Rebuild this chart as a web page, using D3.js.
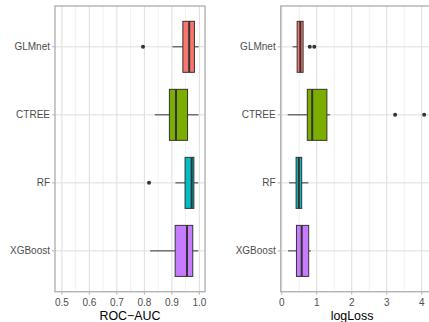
<!DOCTYPE html>
<html><head><meta charset="utf-8">
<script src="https://cdn.jsdelivr.net/npm/d3@7"></script>
<style>body{margin:0;background:#fff}svg{display:block}</style>
</head><body>
<script>
const models = ["GLMnet","CTREE","RF","XGBoost"];
const colors = ["#F8766D","#7CAE00","#00BFC4","#C77CFF"];
// [lowerWhisker, q1, median, q3, upperWhisker]
const rocStats = [
  [0.902,0.940,0.963,0.982,0.997],
  [0.838,0.891,0.915,0.957,0.997],
  [0.913,0.948,0.972,0.980,0.996],
  [0.821,0.912,0.955,0.976,0.996]
];
const rocOutliers = [[0.795],[],[0.817],[]];
const logStats = [
  [0.31,0.44,0.53,0.61,0.61],
  [0.17,0.73,0.87,1.29,1.38],
  [0.21,0.41,0.49,0.57,0.76],
  [0.18,0.42,0.57,0.77,0.83]
];
const logOutliers = [[0.80,0.93],[3.24,4.07],[],[]];
const rocTicks = [0.5,0.6,0.7,0.8,0.9,1.0];
const logTicks = [0,1,2,3,4];

const W=429,H=322;
const svg=d3.select("body").append("svg").attr("width",W).attr("height",H);
const font="Liberation Sans, Arial, sans-serif";

function panel(opts){
  const {x0,x1,y0,y1,domain,ticks,minor,stats,outliers,title,labelX,fmt}=opts;
  const g=svg.append("g");
  const clipId="clip"+Math.round(x0);
  svg.append("clipPath").attr("id",clipId).append("rect")
    .attr("x",x0).attr("y",y0).attr("width",x1-x0).attr("height",y1-y0);
  const x=d3.scaleLinear().domain(domain).range([x0,x1]);
  const y=d3.scalePoint().domain(models).range([y0,y1]).padding(0.6);
  const band=y.step()*0.75;
  const pg=g.append("g").attr("clip-path",`url(#${clipId})`);
  pg.selectAll(".mn").data(minor).join("line")
    .attr("x1",d=>x(d)).attr("x2",d=>x(d)).attr("y1",y0).attr("y2",y1)
    .attr("stroke","#e6e6e6").attr("stroke-width",0.6);
  pg.selectAll(".mj").data(ticks).join("line")
    .attr("x1",d=>x(d)).attr("x2",d=>x(d)).attr("y1",y0).attr("y2",y1)
    .attr("stroke","#dedede").attr("stroke-width",1);
  pg.selectAll(".hy").data(models).join("line")
    .attr("x1",x0).attr("x2",x1).attr("y1",d=>y(d)).attr("y2",d=>y(d))
    .attr("stroke","#dedede").attr("stroke-width",1);
  models.forEach((m,i)=>{
    const s=stats[i], cy=y(m);
    pg.append("line").attr("x1",x(s[0])).attr("x2",x(s[1])).attr("y1",cy).attr("y2",cy)
      .attr("stroke","#333").attr("stroke-width",1);
    pg.append("line").attr("x1",x(s[3])).attr("x2",x(s[4])).attr("y1",cy).attr("y2",cy)
      .attr("stroke","#333").attr("stroke-width",1);
    pg.append("rect").attr("x",x(s[1])).attr("width",x(s[3])-x(s[1]))
      .attr("y",cy-band/2).attr("height",band)
      .attr("fill",colors[i]).attr("stroke","#333").attr("stroke-width",1);
    pg.append("line").attr("x1",x(s[2])).attr("x2",x(s[2])).attr("y1",cy-band/2).attr("y2",cy+band/2)
      .attr("stroke","#333").attr("stroke-width",2);
    outliers[i].forEach(o=>{
      pg.append("circle").attr("cx",x(o)).attr("cy",cy).attr("r",2).attr("fill","#333");
    });
  });
  g.append("rect").attr("x",x0).attr("y",y0).attr("width",x1-x0).attr("height",y1-y0)
    .attr("fill","none").attr("stroke","#b3b3b3").attr("stroke-width",1.4);
  ticks.forEach(t=>{
    g.append("line").attr("x1",x(t)).attr("x2",x(t)).attr("y1",y1).attr("y2",y1+3)
      .attr("stroke","#b3b3b3").attr("stroke-width",1);
    g.append("text").attr("x",x(t)).attr("y",306).attr("text-anchor","middle")
      .attr("font-family",font).attr("font-size",10).attr("fill","#4d4d4d").text(fmt(t));
  });
  models.forEach(m=>{
    g.append("line").attr("x1",x0-3).attr("x2",x0).attr("y1",y(m)).attr("y2",y(m))
      .attr("stroke","#b3b3b3").attr("stroke-width",1);
    g.append("text").attr("x",x0-5).attr("y",y(m)).attr("dy","0.36em").attr("text-anchor","end")
      .attr("font-family",font).attr("font-size",10).attr("fill","#4d4d4d").text(m);
  });
  g.append("text").attr("x",labelX).attr("y",320).attr("text-anchor","middle")
    .attr("font-family",font).attr("font-size",12.4).attr("fill","#000").text(title);
}

panel({x0:55,x1:205,y0:6,y1:291.7,domain:[0.475,1.0205],ticks:rocTicks,
  minor:[0.55,0.65,0.75,0.85,0.95],stats:rocStats,outliers:rocOutliers,
  title:"ROC\u2212AUC",labelX:130,fmt:d3.format(".1f")});
panel({x0:280.7,x1:433,y0:6,y1:291.7,domain:[-0.03,4.322],ticks:logTicks,
  minor:[0.5,1.5,2.5,3.5],stats:logStats,outliers:logOutliers,
  title:"logLoss",labelX:352,fmt:d3.format("d")});
</script>
</body></html>
